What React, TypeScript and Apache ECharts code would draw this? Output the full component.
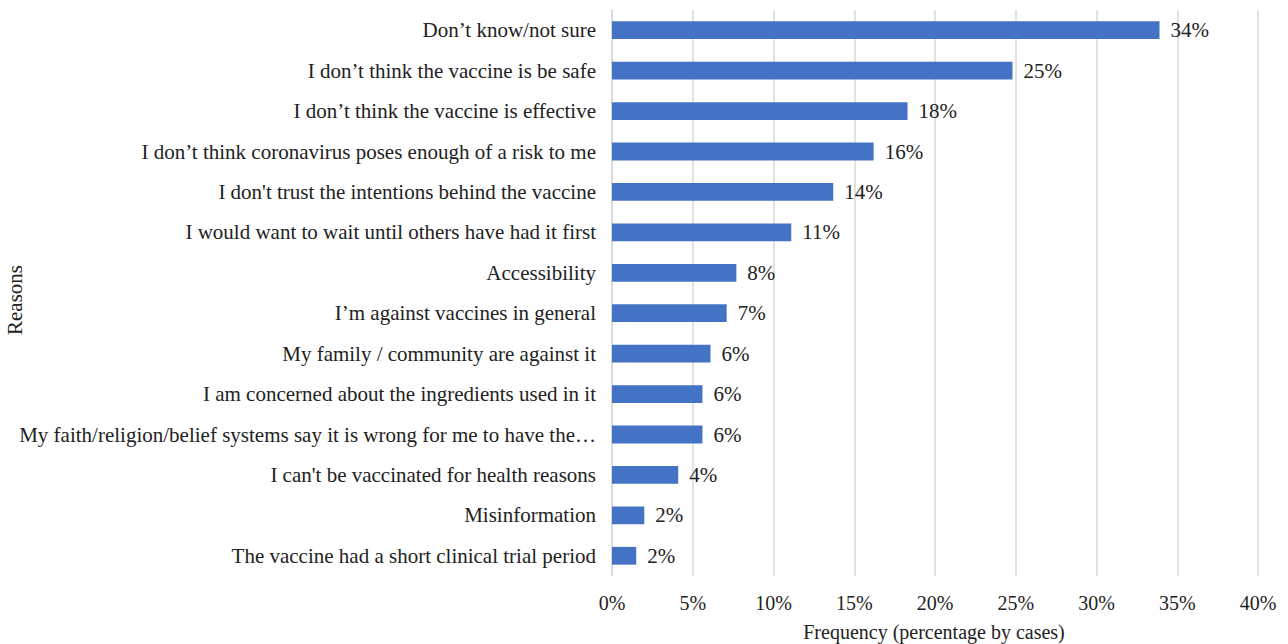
import React, { useEffect, useRef } from "react";
import * as echarts from "echarts";

const categories = [
  "Don’t know/not sure",
  "I don’t think the vaccine is be safe",
  "I don’t think the vaccine is effective",
  "I don’t think coronavirus poses enough of a risk to me",
  "I don't trust the intentions behind the vaccine",
  "I would want to wait until others have had it first",
  "Accessibility",
  "I’m against vaccines in general",
  "My family / community are against it",
  "I am concerned about the ingredients used in it",
  "My faith/religion/belief systems say it is wrong for me to have the…",
  "I can't be vaccinated for health reasons",
  "Misinformation",
  "The vaccine had a short clinical trial period",
];

const values = [33.9, 24.8, 18.3, 16.2, 13.7, 11.1, 7.7, 7.1, 6.1, 5.6, 5.6, 4.1, 2.0, 1.5];
const valueLabels = ["34%", "25%", "18%", "16%", "14%", "11%", "8%", "7%", "6%", "6%", "6%", "4%", "2%", "2%"];
const xTicks = [0, 5, 10, 15, 20, 25, 30, 35, 40];
const xAxisTitle = "Frequency (percentage by cases)";
const yAxisTitle = "Reasons";

const FONT = "'Liberation Serif', 'Times New Roman', serif";

export default function App() {
  const ref = useRef<HTMLDivElement>(null);
  useEffect(() => {
    if (!ref.current) return;
    document.body.style.margin = "0";
    const chart = echarts.init(ref.current, null, { renderer: "svg" });
    chart.setOption({
      animation: false,
      backgroundColor: "#ffffff",
      textStyle: { fontFamily: FONT },
      grid: { left: 612, right: 30, top: 10, bottom: 68, containLabel: false, outerBoundsMode: "none" },
      xAxis: {
        type: "value",
        min: xTicks[0],
        max: xTicks[xTicks.length - 1],
        interval: 5,
        axisLabel: {
          formatter: (v: number) => `${v}%`,
          fontFamily: FONT,
          fontSize: 20,
          color: "#222",
          margin: 17,
        },
        axisLine: { show: false },
        axisTick: { show: false },
        splitLine: { show: true, lineStyle: { color: "#d9d9d9", width: 1.5 } },
      },
      yAxis: {
        type: "category",
        data: categories,
        inverse: true,
        axisLine: { show: true, lineStyle: { color: "#d9d9d9", width: 1.5 } },
        axisTick: { show: false },
        axisLabel: {
          fontFamily: FONT,
          fontSize: 21,
          color: "#222",
          margin: 16,
        },
      },
      graphic: [
        {
          type: "text",
          x: 934,
          y: 632,
          style: {
            text: xAxisTitle,
            fontFamily: FONT,
            fontSize: 20,
            fill: "#222",
            textAlign: "center",
            textVerticalAlign: "middle",
            align: "center",
            verticalAlign: "middle",
          },
        },
        {
          type: "text",
          x: 15,
          y: 300,
          rotation: Math.PI / 2,
          style: {
            text: yAxisTitle,
            fontFamily: FONT,
            fontSize: 21,
            fill: "#222",
            textAlign: "center",
            textVerticalAlign: "middle",
            align: "center",
            verticalAlign: "middle",
          },
        },
      ],
      series: [
        {
          type: "bar",
          data: values,
          barCategoryGap: "56%",
          itemStyle: { color: "#4472c4" },
          label: {
            show: true,
            position: "right",
            distance: 11,
            fontFamily: FONT,
            fontSize: 21,
            color: "#222",
            formatter: (p: any) => valueLabels[p.dataIndex],
          },
        },
      ],
    });
    return () => chart.dispose();
  }, []);
  return <div ref={ref} style={{ width: 1288, height: 644 }} />;
}
